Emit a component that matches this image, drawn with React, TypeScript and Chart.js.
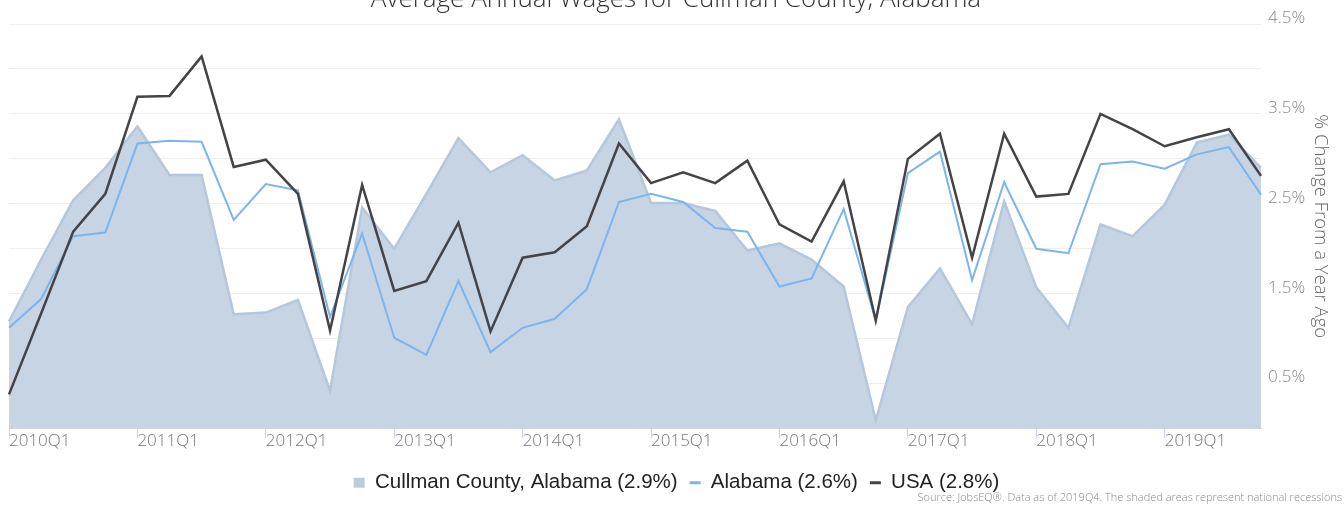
import React, { useEffect, useRef } from 'react';
import { Chart, registerables } from 'chart.js';

Chart.register(...registerables);

const chartTitle = 'Average Annual Wages for Cullman County, Alabama';
const axisTitle = '% Change From a Year Ago';
const sourceText = 'Source: JobsEQ\u00AE. Data as of 2019Q4. The shaded areas represent national recessions';

const quarters = [
  '2010Q1', '2010Q2', '2010Q3', '2010Q4',
  '2011Q1', '2011Q2', '2011Q3', '2011Q4',
  '2012Q1', '2012Q2', '2012Q3', '2012Q4',
  '2013Q1', '2013Q2', '2013Q3', '2013Q4',
  '2014Q1', '2014Q2', '2014Q3', '2014Q4',
  '2015Q1', '2015Q2', '2015Q3', '2015Q4',
  '2016Q1', '2016Q2', '2016Q3', '2016Q4',
  '2017Q1', '2017Q2', '2017Q3', '2017Q4',
  '2018Q1', '2018Q2', '2018Q3', '2018Q4',
  '2019Q1', '2019Q2', '2019Q3', '2019Q4',
];

const cullman = [
  1.19, 1.88, 2.54, 2.90, 3.36, 2.82, 2.82, 1.27, 1.29, 1.43,
  0.42, 2.46, 2.00, 2.61, 3.23, 2.85, 3.04, 2.76, 2.87, 3.44,
  2.51, 2.51, 2.42, 1.98, 2.06, 1.88, 1.58, 0.09, 1.35, 1.78,
  1.16, 2.53, 1.57, 1.12, 2.27, 2.14, 2.49, 3.18, 3.27, 2.90,
];

const alabama = [
  1.12, 1.44, 2.14, 2.18, 3.17, 3.20, 3.19, 2.32, 2.72, 2.65,
  1.24, 2.17, 1.01, 0.82, 1.64, 0.85, 1.12, 1.22, 1.55, 2.52,
  2.61, 2.52, 2.23, 2.19, 1.58, 1.67, 2.44, 1.20, 2.84, 3.08,
  1.65, 2.74, 2.00, 1.95, 2.94, 2.97, 2.89, 3.05, 3.13, 2.60,
];

const usa = [
  0.38, 1.28, 2.19, 2.61, 3.69, 3.70, 4.14, 2.91, 2.99, 2.61,
  1.09, 2.71, 1.53, 1.64, 2.29, 1.08, 1.90, 1.96, 2.25, 3.17,
  2.73, 2.85, 2.73, 2.98, 2.27, 2.08, 2.75, 1.20, 3.00, 3.28,
  1.90, 3.28, 2.58, 2.61, 3.50, 3.33, 3.14, 3.24, 3.33, 2.81,
];

const seriesNames = ['Cullman County, Alabama (2.9%)', 'Alabama (2.6%)', 'USA (2.8%)'];
const yTickValues = [0, 0.5, 1, 1.5, 2, 2.5, 3, 3.5, 4, 4.5];

const AXIS_FONT = '"Open Sans", "DejaVu Sans", sans-serif';

const textPlugin = {
  id: 'extraTexts',
  afterDraw(chart: any) {
    const ctx = chart.ctx;
    ctx.save();
    ctx.font = '300 26px ' + AXIS_FONT;
    ctx.fillStyle = '#333333';
    ctx.textAlign = 'center';
    ctx.textBaseline = 'alphabetic';
    ctx.fillText(chartTitle, 676, 7);
    ctx.font = '300 11px ' + AXIS_FONT;
    ctx.fillStyle = '#888888';
    ctx.textAlign = 'right';
    ctx.fillText(sourceText, 1342, 501);
    ctx.restore();
  },
};

export default function App() {
  const canvasRef = useRef<HTMLCanvasElement | null>(null);

  useEffect(() => {
    const canvas = canvasRef.current;
    if (!canvas) return;
    const chart = new Chart(canvas, {
      type: 'line',
      data: {
        labels: quarters,
        datasets: [
          {
            label: seriesNames[0],
            data: cullman,
            fill: 'origin',
            backgroundColor: '#c6d4e3',
            borderColor: '#b5c7dc',
            borderWidth: 2.5,
            pointRadius: 0,
            pointHoverRadius: 0,
            pointStyle: 'rect',
            tension: 0,
            order: 3,
          },
          {
            label: seriesNames[1],
            data: alabama,
            fill: false,
            borderColor: '#7cb5ec',
            backgroundColor: '#7cb5ec',
            borderWidth: 2,
            pointRadius: 0,
            pointHoverRadius: 0,
            pointStyle: 'line',
            tension: 0,
            order: 2,
          },
          {
            label: seriesNames[2],
            data: usa,
            fill: false,
            borderColor: '#434348',
            backgroundColor: '#434348',
            borderWidth: 2.5,
            pointRadius: 0,
            pointHoverRadius: 0,
            pointStyle: 'line',
            tension: 0,
            order: 1,
          },
        ],
      },
      options: {
        animation: false,
        responsive: true,
        maintainAspectRatio: false,
        events: [],
        layout: { padding: { top: 24, left: 9, right: 0, bottom: 3 } },
        plugins: {
          title: { display: false },
          subtitle: { display: false },
          tooltip: { enabled: false },
          legend: {
            display: true,
            position: 'bottom',
            labels: {
              usePointStyle: true,
              boxHeight: 10,
              pointStyleWidth: 11,
              padding: 12,
              color: '#222222',
              font: { family: '"Liberation Sans", Arial, sans-serif', size: 20.5 },
              sort: (a: any, b: any) => a.datasetIndex - b.datasetIndex,
              generateLabels: (chart: any) => {
                const items = (Chart as any).defaults.plugins.legend.labels.generateLabels(chart);
                return items.map((it: any) => {
                  if (it.datasetIndex === 0) {
                    return { ...it, lineWidth: 0, fillStyle: '#bccbdd', strokeStyle: '#bccbdd' };
                  }
                  return { ...it, lineWidth: 3 };
                });
              },
            },
          },
        },
        scales: {
          x: {
            type: 'category',
            offset: false,
            afterFit: (scale: any) => {
              scale.height = 32;
            },
            grid: {
              display: true,
              drawOnChartArea: false,
              drawTicks: true,
              tickLength: 10,
              tickColor: '#ccd6eb',
              color: '#ccd6eb',
            },
            border: { display: true, color: '#ccd6eb', width: 1 },
            ticks: {
              autoSkip: false,
              maxRotation: 0,
              minRotation: 0,
              align: 'start',
              padding: -8,
              color: '#777777',
              font: { family: AXIS_FONT, size: 17, weight: '300' as any },
              callback: (_v: any, i: number) => (quarters[i].endsWith('Q1') ? quarters[i] : null),
            },
          },
          y: {
            type: 'linear',
            position: 'right',
            min: yTickValues[0],
            max: yTickValues[yTickValues.length - 1],
            afterBuildTicks: (scale: any) => {
              scale.ticks = yTickValues.map((v) => ({ value: v }));
            },
            afterFit: (scale: any) => {
              scale.width = 83;
            },
            grid: { color: '#eeeeee', drawTicks: false, lineWidth: 1 },
            border: { display: false },
            ticks: {
              padding: 7,
              labelOffset: -6,
              color: '#888888',
              font: { family: AXIS_FONT, size: 17, weight: '300' as any },
              callback: (v: any) => (Math.round(Number(v) * 2) % 2 === 1 ? Number(v).toFixed(1) + '%' : ''),
            },
            title: {
              display: true,
              text: axisTitle,
              color: '#666666',
              font: { family: AXIS_FONT, size: 18.5, weight: '300' as any },
              padding: { top: 13, bottom: 0 },
            },
          },
        },
      },
      plugins: [textPlugin],
    } as any);
    return () => chart.destroy();
  }, []);

  return (
    <div style={{ position: 'fixed', left: 0, top: 0, width: 1344, height: 506, background: '#ffffff' }}>
      <canvas ref={canvasRef} />
    </div>
  );
}
